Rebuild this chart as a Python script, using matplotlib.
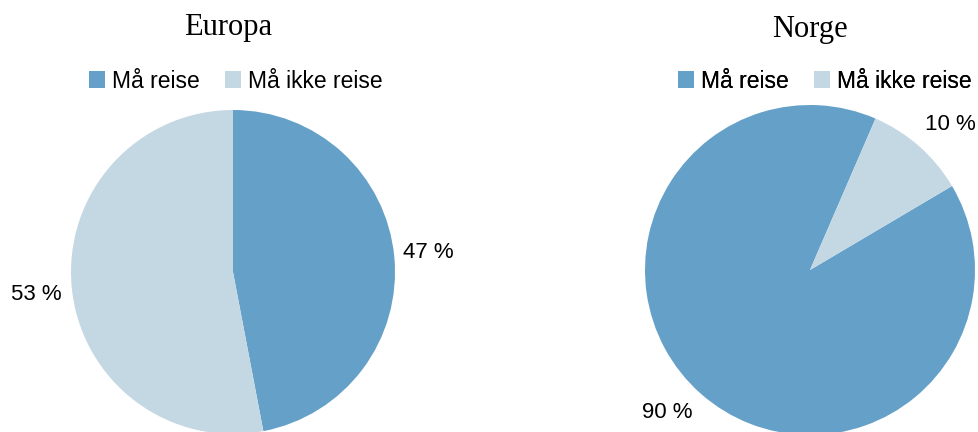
import matplotlib
matplotlib.use("Agg")
import matplotlib.pyplot as plt
from matplotlib.patches import Patch

# Data
titles = ["Europa", "Norge"]
categories = ["Må reise", "Må ikke reise"]
europa = [47, 53]
norge = [90, 10]
colors = ["#64A0C8", "#C4D8E4"]

W, H = 979, 432
fig = plt.figure(figsize=(W / 100, H / 100), dpi=100)
ax = fig.add_axes([0, 0, 1, 1])
ax.set_xlim(0, W)
ax.set_ylim(0, H)
ax.set_aspect("equal")
ax.axis("off")

sans = "Liberation Sans"
serif = "Liberation Serif"

# pie layout: centre, radius, start angle, title pos, legend centre, label positions
layouts = [
    dict(center=(233, 160), r=162, start=90, title=(228, 404), legend=(236, 351),
         labels=[(428, 180), (36, 138)]),
    dict(center=(810, 162), r=165, start=30.6, title=(810, 403), legend=(825, 351),
         labels=[(667, 20), (950, 307)]),
]

for title, values, lay in zip(titles, [europa, norge], layouts):
    ax.pie(values, colors=colors, startangle=lay["start"], counterclock=False,
           center=lay["center"], radius=lay["r"], frame=True,
           wedgeprops=dict(linewidth=0))
    ax.text(*lay["title"], title, ha="center", va="center", fontsize=22,
            family=serif)
    for v, pos in zip(values, lay["labels"]):
        ax.text(*pos, f"{v} %", ha="center", va="center", fontsize=16,
                family=sans)
    handles = [Patch(facecolor=c, edgecolor="none") for c in colors]
    leg = ax.legend(handles, categories, loc="center", ncol=2, frameon=False,
                    bbox_to_anchor=lay["legend"], bbox_transform=ax.transData,
                    prop=dict(family=sans, size=16.5), handlelength=0.7,
                    handleheight=0.7, handletextpad=0.3, columnspacing=1.1,
                    borderpad=0, borderaxespad=0)
    ax.add_artist(leg)

ax.set_xlim(0, W)
ax.set_ylim(0, H)
ax.axis("off")
fig.savefig("out.png", dpi=100)
